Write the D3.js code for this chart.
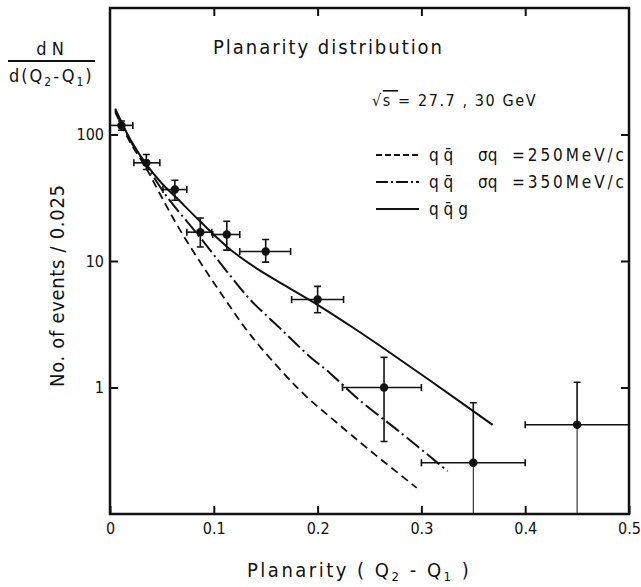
<!DOCTYPE html>
<html>
<head>
<meta charset="utf-8">
<script src="https://cdn.jsdelivr.net/npm/d3@7"></script>
<style>
	body { margin: 0; background: #fff; }
	svg text { font-family: "DejaVu Sans", sans-serif; font-stretch: condensed; fill: #111; }
</style>
</head>
<body>
<div id="chart"></div>
<script>
// measured points (planarity bins)
var pointX   = [0.011, 0.035, 0.0625, 0.087, 0.1125, 0.15, 0.2, 0.264, 0.35, 0.45];
var binLo    = [0.0, 0.023, 0.051, 0.074, 0.099, 0.125, 0.175, 0.224, 0.30, 0.40];
var binHi    = [0.022, 0.048, 0.074, 0.098, 0.125, 0.174, 0.225, 0.300, 0.40, 0.50];
var events   = [118, 59.7, 36.7, 16.9, 16.2, 11.9, 4.96, 1.0, 0.254, 0.507];
var errHi    = [128, 69.5, 43.5, 21.9, 20.6, 14.8, 6.3, 1.73, 0.757, 1.10];
var errLo    = [108, 52.9, 30.2, 12.9, 12.2, 9.8, 3.9, 0.374, null, null];

// model curves
var qqgX  = [0.005, 0.02, 0.035, 0.05, 0.064, 0.087, 0.1135, 0.138, 0.17, 0.2, 0.235, 0.266, 0.31, 0.3686];
var qqgY  = [160, 90, 58, 41, 31.6, 20.5, 12.8, 9.1, 6.3, 4.5, 2.94, 1.98, 1.11, 0.507];
var qq350X = [0.005, 0.02, 0.035, 0.0545, 0.0865, 0.11, 0.1346, 0.1635, 0.192, 0.2115, 0.24, 0.28, 0.3253];
var qq350Y = [155, 88, 57, 32.5, 15.5, 8.8, 5.0, 2.96, 1.77, 1.31, 0.80, 0.44, 0.218];
var qq250X = [0.005, 0.02, 0.035, 0.048, 0.065, 0.0865, 0.11, 0.1346, 0.1667, 0.189, 0.2147, 0.25, 0.2955];
var qq250Y = [150, 85, 54, 34, 19, 9.9, 5.1, 2.65, 1.31, 0.85, 0.56, 0.32, 0.161];

var xTicks = [0, 0.1, 0.2, 0.3, 0.4, 0.5];
var xTickLabels = ["0", "0.1", "0.2", "0.3", "0.4", "0.5"];
var yTicks = [1, 10, 100];
var yTickLabels = ["1", "10", "100"];

var W = 641, H = 587;
var margin = {top: 8, right: 12, bottom: 73, left: 110};

var svg = d3.select("#chart").append("svg")
	.attr("width", W)
	.attr("height", H);

var x = d3.scaleLinear().domain([0, 0.5]).range([margin.left, W - margin.right]);
var y = d3.scaleLog().domain([0.1, 1000]).range([H - margin.bottom, margin.top]);

// axes, ticks pointing inward
svg.append("g")
	.attr("transform", "translate(0," + y(0.1) + ")")
	.call(d3.axisBottom(x).tickValues(xTicks).tickSizeInner(-8).tickSizeOuter(0).tickPadding(9)
		.tickFormat(function(d, i) { return xTickLabels[i]; }))
	.call(function(g) { g.select(".domain").remove(); });

svg.append("g")
	.attr("transform", "translate(0," + y(1000) + ")")
	.call(d3.axisTop(x).tickValues(xTicks.slice(1, 5)).tickSizeInner(-8).tickSizeOuter(0).tickFormat(""))
	.call(function(g) { g.select(".domain").remove(); });

svg.append("g")
	.attr("transform", "translate(" + x(0) + ",0)")
	.call(d3.axisLeft(y).tickValues(yTicks).tickSizeInner(-8).tickSizeOuter(0).tickPadding(6)
		.tickFormat(function(d, i) { return yTickLabels[i]; }))
	.call(function(g) { g.select(".domain").remove(); });

svg.append("g")
	.attr("transform", "translate(" + x(0.5) + ",0)")
	.call(d3.axisLeft(y).tickValues(yTicks).tickSizeInner(8).tickSizeOuter(0).tickFormat(""))
	.call(function(g) { g.select(".domain").remove(); });

svg.selectAll(".tick line").attr("stroke", "#111").attr("stroke-width", 2);
svg.selectAll(".tick text").style("font-size", "16px").attr("fill", "#111");

// frame
svg.append("rect")
	.attr("x", x(0)).attr("y", y(1000))
	.attr("width", x(0.5) - x(0)).attr("height", y(0.1) - y(1000))
	.attr("fill", "none").attr("stroke", "#111").attr("stroke-width", 2.5);

// curves
var line = d3.line()
	.x(function(d) { return x(d[0]); })
	.y(function(d) { return y(d[1]); })
	.curve(d3.curveCatmullRom.alpha(0.5));

var curves = [
	{xs: qq250X, ys: qq250Y, dash: "8,5", w: 1.8},
	{xs: qq350X, ys: qq350Y, dash: "16,4,2,4", w: 2},
	{xs: qqgX, ys: qqgY, dash: null, w: 2}
];

svg.selectAll(".curve")
	.data(curves)
	.enter().append("path")
	.attr("class", "curve")
	.attr("d", function(c) { return line(c.xs.map(function(v, i) { return [v, c.ys[i]]; })); })
	.attr("fill", "none")
	.attr("stroke", "#111")
	.attr("stroke-width", function(c) { return c.w; })
	.attr("stroke-dasharray", function(c) { return c.dash; });

// data points with error bars
var pts = pointX.map(function(v, i) {
	return {x: v, lo: binLo[i], hi: binHi[i], y: events[i], eh: errHi[i], el: errLo[i]};
});

var pt = svg.selectAll(".pt")
	.data(pts)
	.enter().append("g")
	.attr("class", "pt");

var cap = 3.5;
pt.append("line")
	.attr("x1", function(d) { return x(d.lo); })
	.attr("x2", function(d) { return x(d.hi); })
	.attr("y1", function(d) { return y(d.y); })
	.attr("y2", function(d) { return y(d.y); })
	.attr("stroke", "#111").attr("stroke-width", 1.6);
pt.append("path")
	.attr("d", function(d) {
		return "M" + x(d.lo) + "," + (y(d.y) - cap) + "V" + (y(d.y) + cap) +
			"M" + x(d.hi) + "," + (y(d.y) - cap) + "V" + (y(d.y) + cap);
	})
	.attr("stroke", "#111").attr("stroke-width", 1.6);
// upper error
pt.append("path")
	.attr("d", function(d) {
		return "M" + x(d.x) + "," + y(d.y) + "V" + y(d.eh) +
			"M" + (x(d.x) - cap) + "," + y(d.eh) + "H" + (x(d.x) + cap);
	})
	.attr("stroke", "#111").attr("stroke-width", 1.6);
// lower error
pt.append("path")
	.attr("d", function(d) {
		if (d.el == null) return "M" + x(d.x) + "," + y(d.y) + "V" + y(0.1);
		return "M" + x(d.x) + "," + y(d.y) + "V" + y(d.el) +
			"M" + (x(d.x) - cap) + "," + y(d.el) + "H" + (x(d.x) + cap);
	})
	.attr("stroke", "#111")
	.attr("stroke-width", function(d) { return d.el == null ? 1 : 1.6; });
pt.append("circle")
	.attr("cx", function(d) { return x(d.x); })
	.attr("cy", function(d) { return y(d.y); })
	.attr("r", 4.2)
	.attr("fill", "#111");

// titles
svg.append("text")
	.attr("x", 213).attr("y", 54)
	.attr("textLength", 229).attr("lengthAdjust", "spacing")
	.style("font-size", "20px")
	.text("Planarity  distribution");

var sq = svg.append("text").attr("x", 372).attr("y", 106)
	.style("font-size", "16px").style("letter-spacing", "1.6px");
sq.append("tspan").text("\u221A");
sq.append("tspan").style("text-decoration", "overline").text("s  ");
sq.append("tspan").text(" =  27.7 , 30 GeV");

// dN / d(Q2-Q1)
svg.append("text")
	.attr("x", 50).attr("y", 55)
	.attr("text-anchor", "middle")
	.style("font-size", "18px")
	.text("d N");
svg.append("line")
	.attr("x1", 8).attr("x2", 95).attr("y1", 61).attr("y2", 61)
	.attr("stroke", "#111").attr("stroke-width", 2);
var dq = svg.append("text")
	.attr("x", 9).attr("y", 82)
	.style("font-size", "18px").style("letter-spacing", "2px");
dq.append("tspan").text("d(Q");
dq.append("tspan").attr("dy", 4).style("font-size", "12px").text("2");
dq.append("tspan").attr("dy", -4).text("-Q");
dq.append("tspan").attr("dy", 4).style("font-size", "12px").text("1");
dq.append("tspan").attr("dy", -4).text(")");

svg.append("text")
	.attr("transform", "translate(64,286) rotate(-90)")
	.attr("text-anchor", "middle")
	.attr("textLength", 202).attr("lengthAdjust", "spacing")
	.style("font-size", "20px")
	.text("No. of events / 0.025");

var xt = svg.append("text")
	.attr("x", 247).attr("y", 577)
	.style("font-size", "20px").style("letter-spacing", "2.5px");
xt.append("tspan").text("Planarity  ( Q");
xt.append("tspan").attr("dy", 4).style("font-size", "13px").text("2");
xt.append("tspan").attr("dy", -4).text(" - Q");
xt.append("tspan").attr("dy", 4).style("font-size", "13px").text("1");
xt.append("tspan").attr("dy", -4).text(" )");

// legend
var legendRows = [
	{dash: "6,3", y: 155, label: "q q\u0304", sig: "\u03C3q", val: "=250MeV/c"},
	{dash: "12,3,2,3", y: 182, label: "q q\u0304", sig: "\u03C3q", val: "=350MeV/c"},
	{dash: null, y: 209, label: "q q\u0304 g", sig: "", val: ""}
];
var lg = svg.selectAll(".legend")
	.data(legendRows)
	.enter().append("g")
	.attr("class", "legend");
lg.append("line")
	.attr("x1", 376).attr("x2", 419)
	.attr("y1", function(d) { return d.y; })
	.attr("y2", function(d) { return d.y; })
	.attr("stroke", "#111").attr("stroke-width", 1.8)
	.attr("stroke-dasharray", function(d) { return d.dash; });
lg.append("text")
	.attr("x", 429).attr("y", function(d) { return d.y + 6; })
	.style("font-size", "17px")
	.text(function(d) { return d.label; });
lg.append("text")
	.attr("x", 478).attr("y", function(d) { return d.y + 6; })
	.style("font-size", "17px")
	.text(function(d) { return d.sig; });
lg.filter(function(d) { return d.val; }).append("text")
	.attr("x", 512).attr("y", function(d) { return d.y + 6; })
	.attr("textLength", 112).attr("lengthAdjust", "spacing")
	.style("font-size", "17px")
	.text(function(d) { return d.val; });
</script>
</body>
</html>
